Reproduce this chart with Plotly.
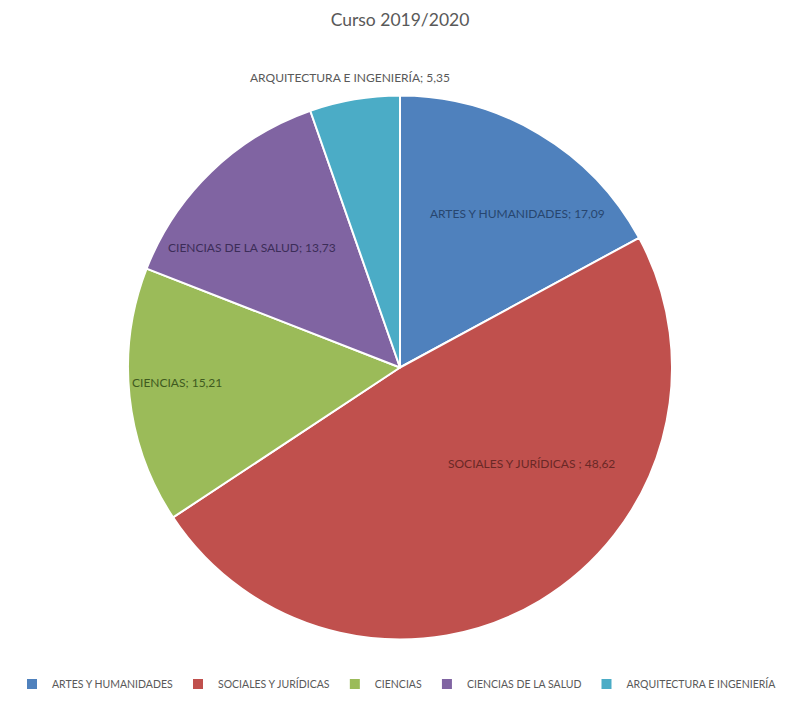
import plotly.graph_objects as go

categories = ["ARTES Y HUMANIDADES", "SOCIALES Y JURÍDICAS ", "CIENCIAS", "CIENCIAS DE LA SALUD", "ARQUITECTURA E INGENIERÍA"]
legend_names = ["ARTES Y HUMANIDADES", "SOCIALES Y JURÍDICAS", "CIENCIAS", "CIENCIAS DE LA SALUD", "ARQUITECTURA E INGENIERÍA"]
values = [17.09, 48.62, 15.21, 13.73, 5.35]
colors = ["#4F81BD", "#C0504D", "#9BBB59", "#8064A2", "#4BACC6"]
label_colors = ["#27466f", "#6a2826", "#3f5a1f", "#3c2d58", "#595959"]
# label anchor positions in page pixels (left edge, vertical middle)
label_px = [(428, 213), (446, 463), (130, 382), (166, 248), (248, 78)]

W, H = 793, 718
OFF = 8  # html body margin
W_FONT = "Lato, 'Open Sans', sans-serif"


def px_x(x):
    return (x - OFF) / W


def px_y(y):
    return (H - (y - OFF)) / H


fig = go.Figure(go.Pie(
    labels=legend_names,
    values=values,
    sort=False,
    direction="clockwise",
    rotation=0,
    marker=dict(colors=colors, line=dict(color="white", width=2)),
    textinfo="none",
    hoverinfo="label+value",
    domain=dict(x=[px_x(128), px_x(672)], y=[px_y(640), px_y(95)]),
))

annotations = []
for name, v, c, (x, y) in zip(categories, values, label_colors, label_px):
    txt = f"{name}; {v:.2f}".replace(".", ",")
    annotations.append(dict(
        x=px_x(x), y=px_y(y), xref="paper", yref="paper", xanchor="left", yanchor="middle",
        text=txt, showarrow=False, font=dict(family=W_FONT, size=12, color=c),
    ))

fig.update_layout(
    width=W, height=H,
    margin=dict(l=0, r=0, t=0, b=0),
    paper_bgcolor="white",
    title=dict(text="Curso 2019/2020", x=px_x(400), xanchor="center", y=px_y(20), yanchor="middle",
               font=dict(family=W_FONT, size=17.5, color="#595959")),
    showlegend=True,
    legend=dict(orientation="h", x=px_x(397), xanchor="center", y=px_y(684), yanchor="middle",
                font=dict(family=W_FONT, size=10.5, color="#595959"), itemwidth=30, tracegroupgap=0),
    annotations=annotations,
)

fig.write_html("out.html")
